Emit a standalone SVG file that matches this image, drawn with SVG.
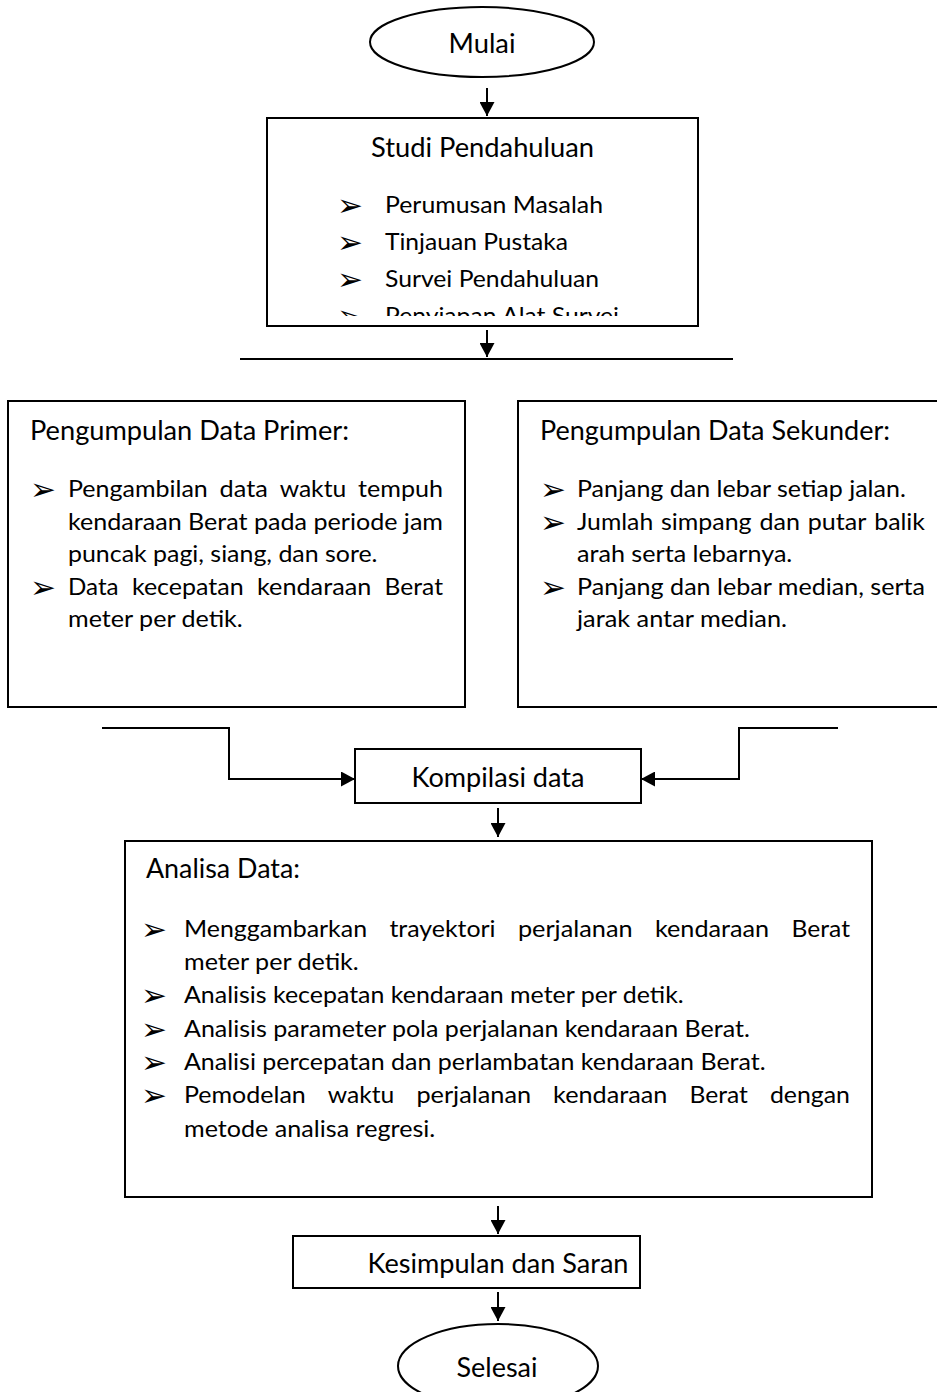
<svg xmlns="http://www.w3.org/2000/svg" width="937" height="1392" viewBox="0 0 937 1392">
<style>
.t{font-family:Lato,'Liberation Sans',sans-serif;font-size:24px;fill:#000}
.h{font-size:26px}
.b{font-family:'DejaVu Sans',sans-serif;font-size:31px;fill:#000}
.box{fill:#fff;stroke:#000;stroke-width:2}
.ln{fill:none;stroke:#000;stroke-width:2}
</style>
<defs>
<marker id="ah" markerUnits="userSpaceOnUse" markerWidth="15" markerHeight="15" refX="14" refY="7.5" orient="auto">
<path d="M0,0 L14,7.5 L0,15 z" fill="#000"/>
</marker>
<clipPath id="clipStudi"><rect x="267" y="118" width="431" height="198"/></clipPath>
</defs>
<rect width="937" height="1392" fill="#fff"/>

<g id="connectors">
<line class="ln" x1="487" y1="88" x2="487" y2="116" marker-end="url(#ah)"/>
<line class="ln" x1="487" y1="330" x2="487" y2="357" marker-end="url(#ah)"/>
<line class="ln" x1="240" y1="359" x2="733" y2="359"/>
<polyline class="ln" points="102,728 229,728 229,779 355,779" marker-end="url(#ah)"/>
<polyline class="ln" points="838,728 739,728 739,779 641,779" marker-end="url(#ah)"/>
<line class="ln" x1="498" y1="808" x2="498" y2="837" marker-end="url(#ah)"/>
<line class="ln" x1="498" y1="1206" x2="498" y2="1234" marker-end="url(#ah)"/>
<line class="ln" x1="498" y1="1292" x2="498" y2="1321" marker-end="url(#ah)"/>
</g>

<g id="mulai">
<ellipse class="box" cx="482" cy="42" rx="112" ry="35"/>
<text class="t h" x="482" y="53" text-anchor="middle" textLength="67" lengthAdjust="spacingAndGlyphs">Mulai</text>
</g>

<g id="studi">
<rect class="box" x="267" y="118" width="431" height="208"/>
<text class="t h" x="371" y="157" textLength="223" lengthAdjust="spacingAndGlyphs">Studi Pendahuluan</text>
<g clip-path="url(#clipStudi)">
<text class="b" x="337" y="216">➢</text>
<text class="t" x="385" y="213" textLength="218" lengthAdjust="spacingAndGlyphs">Perumusan Masalah</text>
<text class="b" x="337" y="253">➢</text>
<text class="t" x="385" y="250" textLength="183" lengthAdjust="spacingAndGlyphs">Tinjauan Pustaka</text>
<text class="b" x="337" y="290">➢</text>
<text class="t" x="385" y="287" textLength="214" lengthAdjust="spacingAndGlyphs">Survei Pendahuluan</text>
<text class="b" x="337" y="327">➢</text>
<text class="t" x="385" y="324" textLength="234" lengthAdjust="spacingAndGlyphs">Penyiapan Alat Survei</text>
</g>
</g>

<g id="primer">
<rect class="box" x="8" y="401" width="457" height="306"/>
<text class="t h" x="30" y="440" textLength="319" lengthAdjust="spacingAndGlyphs">Pengumpulan Data Primer:</text>
<text class="b" x="30" y="500">➢</text>
<text class="t" x="68" y="497" textLength="139.8" lengthAdjust="spacingAndGlyphs">Pengambilan</text>
<text class="t" x="219.6" y="497" textLength="48.2" lengthAdjust="spacingAndGlyphs">data</text>
<text class="t" x="279.7" y="497" textLength="66.5" lengthAdjust="spacingAndGlyphs">waktu</text>
<text class="t" x="358" y="497" textLength="85" lengthAdjust="spacingAndGlyphs">tempuh</text>
<text class="t" x="68" y="529.5" textLength="375" lengthAdjust="spacingAndGlyphs">kendaraan Berat pada periode jam</text>
<text class="t" x="68" y="562" textLength="309.5" lengthAdjust="spacingAndGlyphs">puncak pagi, siang, dan sore.</text>
<text class="b" x="30" y="597.5">➢</text>
<text class="t" x="68" y="594.5" textLength="50.6" lengthAdjust="spacingAndGlyphs">Data</text>
<text class="t" x="131.9" y="594.5" textLength="111.8" lengthAdjust="spacingAndGlyphs">kecepatan</text>
<text class="t" x="257" y="594.5" textLength="114.3" lengthAdjust="spacingAndGlyphs">kendaraan</text>
<text class="t" x="384.6" y="594.5" textLength="58.4" lengthAdjust="spacingAndGlyphs">Berat</text>
<text class="t" x="68" y="627" textLength="174.8" lengthAdjust="spacingAndGlyphs">meter per detik.</text>
</g>

<g id="sekunder">
<rect class="box" x="518" y="401" width="430" height="306"/>
<text class="t h" x="540" y="440" textLength="350" lengthAdjust="spacingAndGlyphs">Pengumpulan Data Sekunder:</text>
<text class="b" x="540" y="500">➢</text>
<text class="t" x="577" y="497" textLength="328.8" lengthAdjust="spacingAndGlyphs">Panjang dan lebar setiap jalan.</text>
<text class="b" x="540" y="532.5">➢</text>
<text class="t" x="577" y="529.5" textLength="76.2" lengthAdjust="spacingAndGlyphs">Jumlah</text>
<text class="t" x="661" y="529.5" textLength="90.6" lengthAdjust="spacingAndGlyphs">simpang</text>
<text class="t" x="759.4" y="529.5" textLength="40.5" lengthAdjust="spacingAndGlyphs">dan</text>
<text class="t" x="807.8" y="529.5" textLength="58.6" lengthAdjust="spacingAndGlyphs">putar</text>
<text class="t" x="874.2" y="529.5" textLength="50.8" lengthAdjust="spacingAndGlyphs">balik</text>
<text class="t" x="577" y="562" textLength="215.3" lengthAdjust="spacingAndGlyphs">arah serta lebarnya.</text>
<text class="b" x="540" y="597.5">➢</text>
<text class="t" x="577" y="594.5" textLength="348" lengthAdjust="spacingAndGlyphs">Panjang dan lebar median, serta</text>
<text class="t" x="577" y="627" textLength="210" lengthAdjust="spacingAndGlyphs">jarak antar median.</text>
</g>

<g id="kompilasi">
<rect class="box" x="355" y="749" width="286" height="54"/>
<text class="t h" x="498" y="787" text-anchor="middle" textLength="173" lengthAdjust="spacingAndGlyphs">Kompilasi data</text>
</g>

<g id="analisa">
<rect class="box" x="125" y="841" width="747" height="356"/>
<text class="t h" x="146" y="878" textLength="154" lengthAdjust="spacingAndGlyphs">Analisa Data:</text>
<text class="b" x="141" y="940">➢</text>
<text class="t" x="184" y="937" textLength="183.1" lengthAdjust="spacingAndGlyphs">Menggambarkan</text>
<text class="t" x="389.4" y="937" textLength="106.2" lengthAdjust="spacingAndGlyphs">trayektori</text>
<text class="t" x="517.9" y="937" textLength="114.7" lengthAdjust="spacingAndGlyphs">perjalanan</text>
<text class="t" x="654.9" y="937" textLength="114.3" lengthAdjust="spacingAndGlyphs">kendaraan</text>
<text class="t" x="791.6" y="937" textLength="58.4" lengthAdjust="spacingAndGlyphs">Berat</text>
<text class="t" x="184" y="970" textLength="174.8" lengthAdjust="spacingAndGlyphs">meter per detik.</text>
<text class="b" x="141" y="1006">➢</text>
<text class="t" x="184" y="1003" textLength="499.7" lengthAdjust="spacingAndGlyphs">Analisis kecepatan kendaraan meter per detik.</text>
<text class="b" x="141" y="1040">➢</text>
<text class="t" x="184" y="1037" textLength="565.8" lengthAdjust="spacingAndGlyphs">Analisis parameter pola perjalanan kendaraan Berat.</text>
<text class="b" x="141" y="1073">➢</text>
<text class="t" x="184" y="1070" textLength="581.6" lengthAdjust="spacingAndGlyphs">Analisi percepatan dan perlambatan kendaraan Berat.</text>
<text class="b" x="141" y="1106">➢</text>
<text class="t" x="184" y="1103" textLength="121.8" lengthAdjust="spacingAndGlyphs">Pemodelan</text>
<text class="t" x="327.8" y="1103" textLength="66.5" lengthAdjust="spacingAndGlyphs">waktu</text>
<text class="t" x="416.4" y="1103" textLength="114.7" lengthAdjust="spacingAndGlyphs">perjalanan</text>
<text class="t" x="553.1" y="1103" textLength="114.3" lengthAdjust="spacingAndGlyphs">kendaraan</text>
<text class="t" x="689.5" y="1103" textLength="58.4" lengthAdjust="spacingAndGlyphs">Berat</text>
<text class="t" x="769.9" y="1103" textLength="80.1" lengthAdjust="spacingAndGlyphs">dengan</text>
<text class="t" x="184" y="1137" textLength="251.3" lengthAdjust="spacingAndGlyphs">metode analisa regresi.</text>
</g>

<g id="kesimpulan">
<rect class="box" x="293" y="1236" width="347" height="52"/>
<text class="t h" x="498" y="1273" text-anchor="middle" textLength="261" lengthAdjust="spacingAndGlyphs">Kesimpulan dan Saran</text>
</g>

<g id="selesai">
<ellipse class="box" cx="498" cy="1366" rx="100" ry="42"/>
<text class="t h" x="497" y="1377" text-anchor="middle" textLength="81" lengthAdjust="spacingAndGlyphs">Selesai</text>
</g>
</svg>
